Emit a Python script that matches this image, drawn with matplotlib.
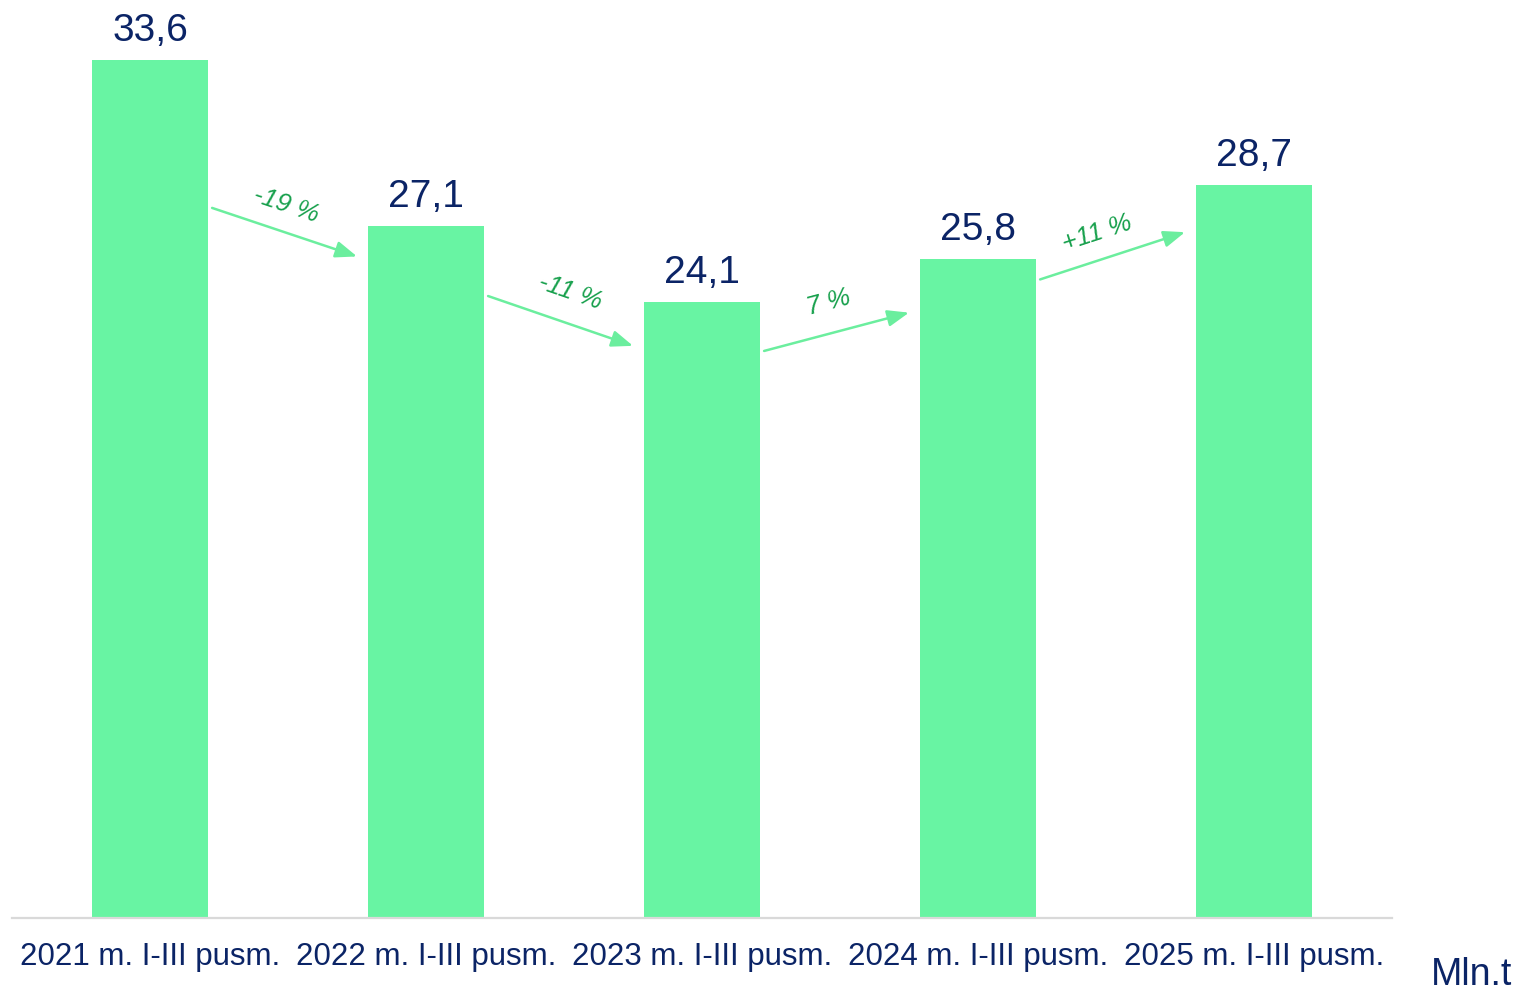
import numpy as np
import matplotlib.pyplot as plt

plt.rcParams['font.family'] = ['Liberation Sans', 'DejaVu Sans']

# Data
periods = ["2021 m. I-III pusm.", "2022 m. I-III pusm.", "2023 m. I-III pusm.",
           "2024 m. I-III pusm.", "2025 m. I-III pusm."]
values = [33.6, 27.1, 24.1, 25.8, 28.7]
value_labels = ["33,6", "27,1", "24,1", "25,8", "28,7"]
change_labels = ["-19 %", "-11 %", "7 %", "+11 %"]

bar_color = "#68F4A3"
navy = "#0B2466"
pct_green = "#17A04C"
arrow_color = "#6BEE9E"

fig = plt.figure(figsize=(15.19, 9.91), dpi=100)
ax = fig.add_axes([12 / 1519, 1 - 918 / 991, (1392 - 12) / 1519, 918 / 991])

x = np.arange(len(values))
ax.bar(x, values, width=0.42, color=bar_color, zorder=2)
ax.set_xlim(-0.5, len(values) - 0.5)
ax.set_ylim(0, 35.94)

for xi, v, lab in zip(x, values, value_labels):
    ax.annotate(lab, (xi, v), xytext=(0, 8), textcoords="offset points",
                ha="center", va="bottom", fontsize=28, color=navy)

# Change arrows between bars
start_off = [0.7, 0.25, -1.9, -0.8]
end_off = [-1.2, -1.7, -2.1, -1.85]
label_pos = [0.45, 0.5, 0.5, 0.45]
label_gap = [19, 22, 22, 19]
for i, lab in enumerate(change_labels):
    x0, x1 = x[i] + 0.225, x[i + 1] - 0.25
    y0 = values[i + 1] + start_off[i] if values[i + 1] < values[i] else values[i] + start_off[i]
    y1 = values[i + 1] + end_off[i]
    ax.annotate("", xy=(x1, y1), xytext=(x0, y0),
                arrowprops=dict(arrowstyle="-|>,head_length=1.3,head_width=0.5",
                                color=arrow_color, lw=1.8, shrinkA=0, shrinkB=0))
    p0 = ax.transData.transform((x0, y0))
    p1 = ax.transData.transform((x1, y1))
    ang = np.degrees(np.arctan2(p1[1] - p0[1], p1[0] - p0[0]))
    t = label_pos[i]
    mx, my = x0 + (x1 - x0) * t, y0 + (y1 - y0) * t
    nrm = np.radians(ang + 90)
    g = label_gap[i]
    ax.annotate(lab, (mx, my), xytext=(g * np.cos(nrm), g * np.sin(nrm)),
                textcoords="offset points", ha="center", va="center",
                rotation=ang, rotation_mode="anchor", fontsize=18.5,
                style="italic", color=pct_green)

ax.set_xticks(x)
ax.set_xticklabels(periods, fontsize=22.5, color=navy)
ax.tick_params(axis="x", length=0, pad=17)
ax.set_yticks([])
for s in ["top", "right", "left"]:
    ax.spines[s].set_visible(False)
ax.spines["bottom"].set_color("#D9D9D9")
ax.spines["bottom"].set_linewidth(1.6)

fig.text(1512 / 1519, 1 - 975 / 991, "Mln.t", ha="right", va="center",
         fontsize=27, color=navy)

fig.savefig("out.png", dpi=100)
